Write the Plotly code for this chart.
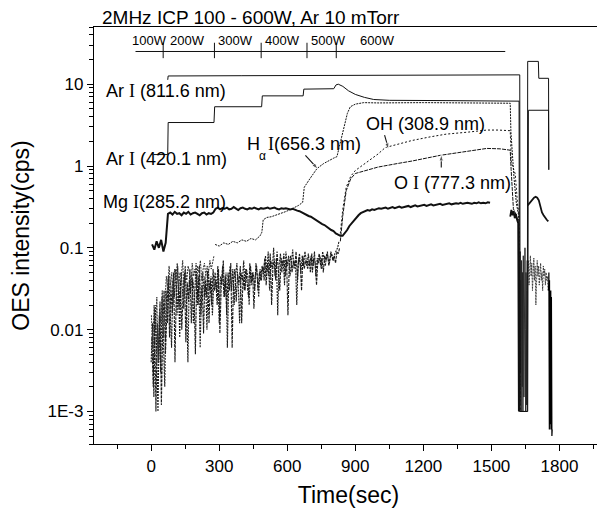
import math
import plotly.graph_objects as go

# ---------------- data ----------------
# Ar I (811.6 nm), solid
ar811_t = [73, 75, 400, 800, 1200, 1500, 1625, 1627, 1658, 1660, 1707, 1709, 1752, 1753]
ar811_v = [11.3, 12.6, 12.7, 12.8, 12.9, 13.0, 13.0, 0.001, 0.001, 19, 19, 11.8, 11.8, 0.9]

# Ar I (420.1 nm), solid staircase
ar420_t = [11, 73, 75, 277, 280, 487, 490, 670, 673, 805, 815, 825, 845, 870, 900, 940,
           981, 1050, 1300, 1600, 1622, 1624, 1660, 1663, 1752, 1753]
ar420_v = [1.38, 1.38, 3.4, 3.4, 5.3, 5.3, 7.2, 7.2, 8.7, 8.8, 9.8, 10.0, 9.4, 8.3, 7.5, 6.9,
           6.5, 6.35, 6.3, 6.3, 6.2, 0.001, 0.001, 4.8, 4.8, 0.9]

# Mg I (285.2 nm), thick solid, sampled every 10 s from t = 4 s
mg_v = ([0.11, 0.095, 0.12, 0.1, 0.125, 0.09, 0.115]
        + [0.26, 0.27, 0.255, 0.275, 0.26, 0.265, 0.25, 0.27, 0.26, 0.275, 0.255, 0.265, 0.27,
           0.26, 0.25, 0.265, 0.27, 0.255, 0.265, 0.26, 0.27]
        + [0.30, 0.31, 0.295, 0.305, 0.30, 0.31, 0.295, 0.30, 0.315, 0.30, 0.29, 0.305, 0.31,
           0.30, 0.295, 0.305, 0.30, 0.31, 0.30, 0.295, 0.305, 0.30]
        + [0.305, 0.31, 0.30, 0.305, 0.31, 0.30, 0.295, 0.305, 0.30, 0.305, 0.30, 0.295, 0.30,
           0.29, 0.285, 0.28, 0.27, 0.265, 0.255, 0.245]
        + [0.24, 0.23, 0.22, 0.21, 0.205, 0.195, 0.19, 0.18, 0.175, 0.165, 0.16, 0.15, 0.145, 0.14]
        + [0.14, 0.15, 0.165, 0.185, 0.2, 0.22, 0.235, 0.25, 0.265, 0.275, 0.28, 0.29, 0.285,
           0.295, 0.29, 0.3, 0.305]
        + [0.30, 0.305, 0.31, 0.30, 0.31, 0.315, 0.305, 0.31, 0.32, 0.31, 0.315, 0.32, 0.325,
           0.315, 0.32, 0.33, 0.32, 0.325, 0.33, 0.335, 0.325, 0.33, 0.34, 0.33, 0.335, 0.34,
           0.345, 0.335, 0.34, 0.345, 0.35, 0.34, 0.345, 0.35, 0.345, 0.355, 0.345, 0.35, 0.355,
           0.35, 0.345, 0.355, 0.35, 0.36, 0.35, 0.355, 0.35, 0.36, 0.355])
mg_late_t = [1583, 1588, 1593, 1598, 1603, 1608, 1613, 1618, 1621]
mg_late_v = [0.24, 0.29, 0.25, 0.28, 0.23, 0.26, 0.22, 0.2, 0.001]
mg_on_t = [1660, 1667, 1674, 1681, 1688, 1695, 1702, 1709, 1716, 1723, 1730, 1737, 1744, 1751]
mg_on_v = [0.33, 0.35, 0.37, 0.39, 0.41, 0.42, 0.41, 0.38, 0.32, 0.27, 0.25, 0.23, 0.22, 0.21]

# H alpha I (656.3 nm): noisy start (every 6 s from 0), then explicit points
ha_noise = [0.015, 0.006, 0.02, 0.01, 0.025, 0.004, 0.018, 0.012, 0.03, 0.008,
            0.022, 0.045, 0.03, 0.06, 0.035, 0.05, 0.02, 0.055, 0.04, 0.065,
            0.03, 0.05, 0.045, 0.07, 0.025, 0.055, 0.04, 0.06, 0.05, 0.035,
            0.065, 0.045, 0.055, 0.03, 0.06, 0.05, 0.07, 0.04, 0.055, 0.065,
            0.045, 0.06, 0.05, 0.07, 0.055, 0.065, 0.08]
ha_t = [282, 300, 320, 340, 360, 380, 400, 420, 440, 460, 480, 488, 494, 510, 530, 550, 570,
        590, 610, 630, 650, 668, 675, 700, 731, 760, 790, 805, 819, 835, 850, 865, 878, 900,
        937, 1000, 1200, 1400, 1500, 1583, 1586, 1592, 1600, 1610, 1620, 1625]
ha_v = [0.11, 0.105, 0.115, 0.11, 0.12, 0.115, 0.125, 0.12, 0.13, 0.125, 0.14, 0.155, 0.22,
        0.235, 0.24, 0.25, 0.26, 0.275, 0.29, 0.31, 0.33, 0.36, 0.55, 0.7, 0.93, 1.07, 1.2,
        1.25, 1.3, 2.0, 3.2, 4.4, 5.3, 5.7, 5.95, 5.9, 5.95, 5.9, 5.9, 5.85, 2.6, 1.3, 0.7,
        0.35, 0.25, 0.0012]

# OH (308.9 nm): noise every 6 s from 0 to 828 s, then explicit points
oh_noise = ([0.004, 0.012, 0.0015, 0.02, 0.006, 0.001, 0.015, 0.003, 0.025, 0.008, 0.002]
            + [0.03, 0.012, 0.045, 0.02, 0.006, 0.04, 0.025, 0.055, 0.015, 0.035, 0.008, 0.05,
               0.03, 0.018, 0.06, 0.022, 0.004, 0.04, 0.028, 0.05, 0.012, 0.035, 0.065, 0.02,
               0.045, 0.006, 0.03, 0.05, 0.025, 0.04, 0.01, 0.055, 0.03, 0.045, 0.015, 0.035]
            + [0.05, 0.03, 0.06, 0.012, 0.045, 0.035, 0.07, 0.025, 0.05, 0.006, 0.04, 0.06,
               0.03, 0.055, 0.02, 0.045, 0.065, 0.035, 0.012, 0.05, 0.04, 0.07, 0.03, 0.055,
               0.045, 0.02, 0.06, 0.04, 0.05, 0.03, 0.065, 0.045, 0.025, 0.055, 0.04]
            + [0.06, 0.04, 0.08, 0.05, 0.09, 0.03, 0.07, 0.055, 0.1, 0.045, 0.075, 0.015, 0.06,
               0.085, 0.05, 0.07, 0.035, 0.09, 0.06, 0.08, 0.045, 0.075, 0.095, 0.055, 0.07,
               0.02, 0.065, 0.085, 0.05, 0.08, 0.06, 0.09, 0.07, 0.055]
            + [0.07, 0.05, 0.085, 0.06, 0.09, 0.045, 0.075, 0.065, 0.08, 0.055, 0.09, 0.07,
               0.06, 0.085, 0.075, 0.065, 0.09, 0.08, 0.07, 0.085, 0.095, 0.1, 0.12])
oh_t = [834, 845, 860, 880, 900, 950, 1000, 1032, 1100, 1150, 1230, 1300, 1400, 1480, 1530,
        1583, 1588, 1595, 1605, 1615, 1622, 1627]
oh_v = [0.15, 0.3, 0.55, 0.75, 0.88, 1.1, 1.4, 1.68, 1.9, 2.05, 2.27, 2.45, 2.6, 2.75, 2.75,
        2.7, 1.1, 0.95, 0.8, 0.35, 0.25, 0.001]

# O I (777.3 nm): noise every 6 s from 0 to 828 s, then explicit points
oi_noise = ([0.008, 0.002, 0.018, 0.001, 0.012, 0.004, 0.022, 0.0012, 0.01, 0.03, 0.005]
            + [0.02, 0.045, 0.008, 0.035, 0.015, 0.05, 0.004, 0.03, 0.06, 0.018, 0.04, 0.01,
               0.028, 0.05, 0.007, 0.038, 0.022, 0.055, 0.012, 0.042, 0.03, 0.005, 0.048, 0.02,
               0.06, 0.015, 0.035, 0.009, 0.045, 0.025, 0.052, 0.012, 0.04, 0.02, 0.055, 0.03]
            + [0.04, 0.02, 0.055, 0.009, 0.035, 0.06, 0.025, 0.045, 0.015, 0.05, 0.03, 0.065,
               0.006, 0.04, 0.055, 0.022, 0.048, 0.035, 0.06, 0.012, 0.045, 0.03, 0.055, 0.04,
               0.025, 0.065, 0.035, 0.05, 0.018, 0.045, 0.06, 0.03, 0.05, 0.04, 0.06]
            + [0.05, 0.075, 0.035, 0.065, 0.045, 0.085, 0.02, 0.06, 0.07, 0.04, 0.09, 0.055,
               0.03, 0.075, 0.06, 0.085, 0.045, 0.07, 0.015, 0.065, 0.08, 0.05, 0.07, 0.06,
               0.09, 0.04, 0.075, 0.065, 0.03, 0.08, 0.055, 0.07, 0.06, 0.085]
            + [0.06, 0.08, 0.05, 0.075, 0.065, 0.035, 0.07, 0.085, 0.06, 0.075, 0.05, 0.08,
               0.07, 0.09, 0.06, 0.075, 0.085, 0.07, 0.08, 0.065, 0.09, 0.085, 0.1])
oi_t = [834, 845, 860, 880, 900, 920, 960, 1000, 1084, 1150, 1274, 1350, 1480, 1540, 1583,
        1587, 1597, 1610, 1620, 1626]
oi_v = [0.12, 0.25, 0.5, 0.7, 0.81, 0.84, 0.9, 0.97, 1.07, 1.15, 1.35, 1.45, 1.64, 1.62,
        1.56, 0.9, 0.3, 0.25, 0.2, 0.0015]

# plasma-off noise (every 1.5 s from 1624 s), restart noise (every 3 s from 1660 s),
# final shut-down noise (every 0.7 s from 1752 s)
off_noise = [0.06, 0.0012, 0.09, 0.003, 0.04, 0.001, 0.07, 0.015, 0.002, 0.05, 0.001, 0.08,
             0.02, 0.0015, 0.06, 0.004, 0.1, 0.01, 0.001, 0.05, 0.03, 0.0012, 0.07]
on_noise = [0.05, 0.07, 0.035, 0.06, 0.08, 0.045, 0.065, 0.03, 0.055, 0.075, 0.04, 0.06, 0.02,
            0.05, 0.07, 0.045, 0.06, 0.035, 0.055, 0.065, 0.04, 0.05, 0.03, 0.06, 0.045, 0.055,
            0.035, 0.05, 0.04, 0.045, 0.03]
end_noise = [0.03, 0.0008, 0.05, 0.001, 0.02, 0.0006, 0.04, 0.0009, 0.025, 0.0007, 0.035,
             0.001, 0.02, 0.0008, 0.03, 0.0006, 0.015, 0.0009, 0.025, 0.0007, 0.02, 0.0005,
             0.01, 0.0006]

# RF power schedule bar
power_labels = ["100W", "200W", "300W", "400W", "500W", "600W"]
power_label_t = [-95, 74, 285, 492, 695, 913]
power_step_t = [53, 279, 485, 687, 816]
power_span_t = [-69, 1561]
power_bar_v = 25.1
power_tick_v = [20.8, 32.1]
power_label_v = 34.0

# label arrows (tail -> head)
arrow_t = [[680, 736], [1029, 1047], [1279, 1279]]
arrow_v = [[1.353, 0.911], [2.382, 1.590], [0.956, 1.392]]

x_ticks = [0, 300, 600, 900, 1200, 1500, 1800]
x_minor = [-150, 150, 450, 750, 1050, 1350, 1650, 1950]
y_ticks = [0.001, 0.01, 0.1, 1, 10]
y_ticktext = ["1E-3", "0.01", "0.1", "1", "10"]
y_minor = [m * 10 ** e for e in range(-4, 2) for m in range(2, 10) if 4e-4 <= m * 10 ** e <= 50]

FONT = "Liberation Sans, Arial, sans-serif"
SERIF = "Liberation Serif, Times New Roman, serif"
INK = "#111111"
SERIF_I = "<span style=\"font-family:'Liberation Serif'\">I</span>"

fig = go.Figure()

def add(x=None, y=None, width=1.0, dash="solid", color=INK, **kw):
    fig.add_trace(go.Scatter(x=x, y=y, mode="lines", showlegend=False, hoverinfo="skip",
                             line=dict(color=color, width=width, dash=dash), **kw))

# noisy low-level parts
add(y=oh_noise, x0=0, dx=6, width=1.1, dash="2px,1px", color="#1a1a1a")
add(y=oi_noise, x0=3, dx=6, width=1.1, dash="3px,1px", color="#1a1a1a")
add(y=ha_noise, x0=1, dx=6, width=1.0, dash="2px,1px", color="#333333")
add(y=off_noise, x0=1624, dx=1.5, width=0.9, color="#222222")
add(y=on_noise, x0=1660, dx=3, width=0.9, dash="2px,1px", color="#333333")
add(y=end_noise, x0=1752, dx=0.7, width=1.2, color="#000000")

# main emission lines
add(oh_t, oh_v, width=1.0, dash="2px,2px")
add(oi_t, oi_v, width=1.0, dash="4px,1px")
add(ha_t, ha_v, width=1.0, dash="2px,1px")
add(y=mg_v, x0=4, dx=10, width=2.0)
add(mg_late_t, mg_late_v, width=1.8)
add(mg_on_t, mg_on_v, width=1.8)
add(ar420_t, ar420_v, width=1.0)
add(ar811_t, ar811_v, width=1.0)

# power schedule bar with step ticks
add(power_span_t, [power_bar_v, power_bar_v], width=1.0)
tick_x, tick_y = [], []
for t in power_step_t:
    tick_x += [t, t, None]
    tick_y += [power_tick_v[0], power_tick_v[1], None]
add(tick_x, tick_y, width=1.0)

# arrows pointing from the labels to their curves
for xs, ys in zip(arrow_t, arrow_v):
    fig.add_trace(go.Scatter(x=xs, y=ys, mode="lines+markers", showlegend=False,
                             hoverinfo="skip", line=dict(color=INK, width=1.1),
                             marker=dict(symbol="arrow", size=[0, 7], angleref="previous",
                                         color=INK)))

ann = []
for lab, t in zip(power_labels, power_label_t):
    ann.append(dict(x=t, y=math.log10(power_label_v), text=lab, xanchor="left",
                    yanchor="middle", showarrow=False, font=dict(size=13)))

labels = [
    (-209, 0.918, "Ar " + SERIF_I + " (811.6 nm)", 18),
    (-209, 0.082, "Ar " + SERIF_I + " (420.1 nm)", 18),
    (-223, -0.434, "Mg " + SERIF_I + "(285.2 nm)", 18),
    (415, 0.275, "H", 18),
    (466, 0.118, "\u03b1", 12),
    (508, 0.275, SERIF_I + "(656.3 nm)", 18),
    (937, 0.512, "OH (308.9 nm)", 18),
    (1062, -0.213, "O " + SERIF_I + " (777.3 nm)", 18),
]
for x, y, txt, size in labels:
    ann.append(dict(x=x, y=y, text=txt, xanchor="left", yanchor="middle",
                    showarrow=False, font=dict(size=size)))

ann.append(dict(xref="paper", yref="paper", x=0.0118, y=1.022,
                text="2MHz ICP 100 - 600W, Ar 10 mTorr",
                xanchor="left", yanchor="middle", showarrow=False, font=dict(size=19)))

axis_common = dict(showline=True, linecolor="black", linewidth=1.3, mirror=True,
                   showgrid=False, zeroline=False, ticks="outside", tickcolor="black",
                   tickwidth=1.2, ticklen=6, automargin=False,
                   tickfont=dict(size=17, color="black", family=FONT))

# the page body adds an 8 px offset, so the figure is drawn 8 px smaller each way
fig.update_layout(
    width=597, height=510,
    margin=dict(l=86, r=2, t=19, b=74, pad=0),
    paper_bgcolor="white", plot_bgcolor="white",
    font=dict(family=FONT, color="black"),
    annotations=ann,
    xaxis=dict(range=[-252, 1992], tickmode="array", tickvals=x_ticks,
               title=dict(text="Time(sec)", font=dict(size=23), standoff=12),
               minor=dict(tickmode="array", tickvals=x_minor, ticks="outside", ticklen=4,
                          tickcolor="black", tickwidth=1),
               **axis_common),
    yaxis=dict(type="log", range=[math.log10(4e-4), math.log10(50)], tickmode="array",
               tickvals=y_ticks, ticktext=y_ticktext,
               title=dict(text="OES intensity(cps)", font=dict(size=23), standoff=12),
               minor=dict(tickmode="array", tickvals=y_minor, ticks="outside", ticklen=4,
                          tickcolor="black", tickwidth=1),
               **axis_common),
)

fig.write_html("out.html")
